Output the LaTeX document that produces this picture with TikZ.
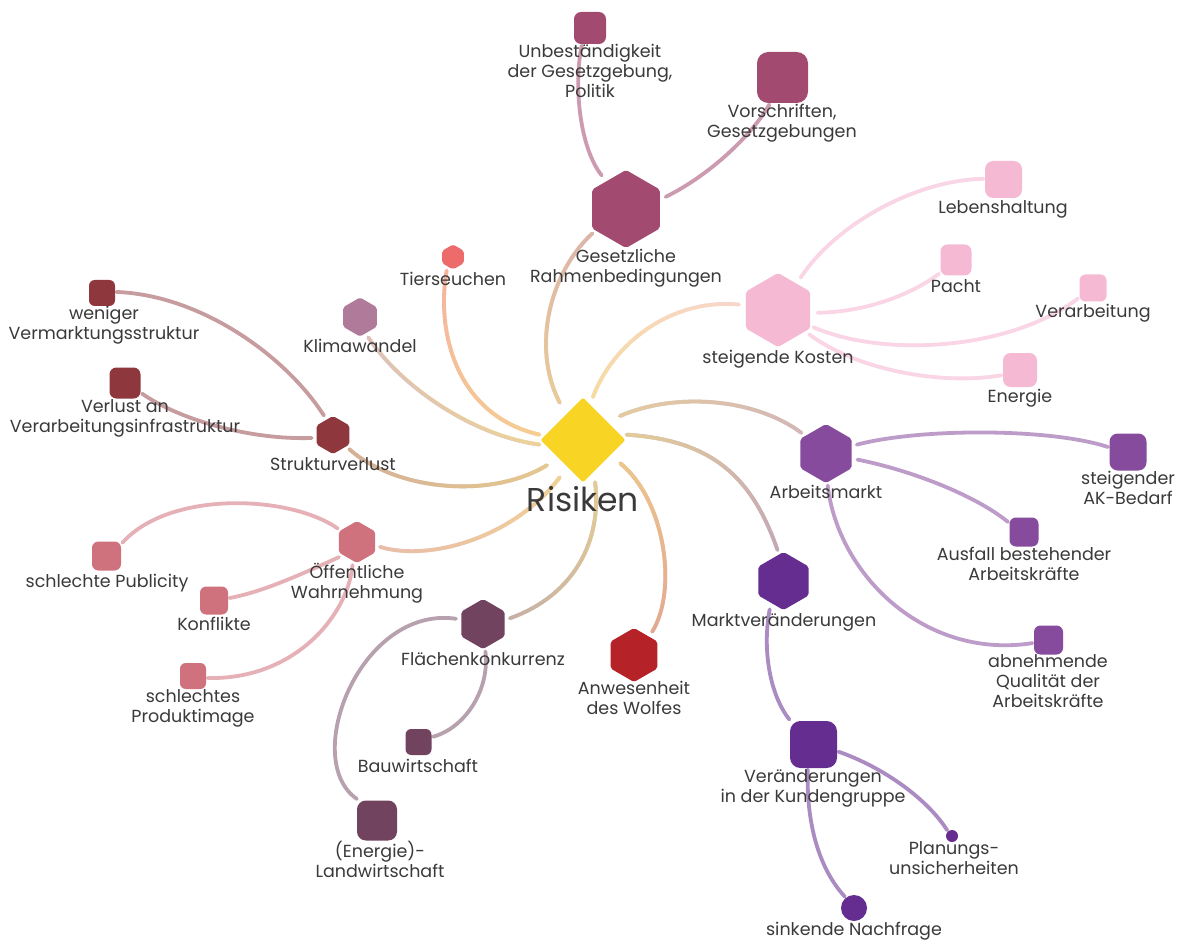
\documentclass[tikz,border=0pt]{standalone}
\usepackage{fontspec}
\setmainfont{Poppins}
\usetikzlibrary{shapes.geometric,fadings}
\pgfdeclarelayer{edges}
\pgfsetlayers{edges,main}
\definecolor{cR}{HTML}{F8D524}
\definecolor{cG}{HTML}{A34A70}
\definecolor{cK}{HTML}{F5B9D4}
\definecolor{cA}{HTML}{874B9E}
\definecolor{cM}{HTML}{652D90}
\definecolor{cW}{HTML}{B52329}
\definecolor{cF}{HTML}{72435F}
\definecolor{cO}{HTML}{D0727D}
\definecolor{cS}{HTML}{8E383E}
\definecolor{cKl}{HTML}{B07A9B}
\definecolor{cT}{HTML}{EE6B6B}
\definecolor{yel}{HTML}{F5DE88}
\definecolor{txt}{HTML}{3A3A3A}
\newcommand\lblfont{\fontsize{17.5}{20}\selectfont}
\newcommand\riskfont{\fontsize{33}{40}\selectfont}
\newcommand\lstrut{\vrule width 0pt height 16pt\relax}
\begin{tikzfadingfrompicture}[name=yfade]
  \fill[transparent!0] (-150bp,-150bp) rectangle (-70bp,150bp);
  \shade[left color=transparent!0, right color=transparent!100] (-70bp,-150bp) rectangle (70bp,150bp);
  \fill[transparent!100] (70bp,-150bp) rectangle (150bp,150bp);
\end{tikzfadingfrompicture}
\tikzset{
  hexa/.style={regular polygon, regular polygon sides=6, shape border rotate=30,
    minimum size=#1, inner sep=0pt, outer sep=0pt, rounded corners=2pt, draw=none},
  hit/.style={circle, minimum size=#1, inner sep=0pt, outer sep=0pt, draw=none},
  sq/.style={rectangle, minimum size=#1, inner sep=0pt, outer sep=1.5pt, rounded corners=#1/4.5},
  circ/.style={circle, minimum size=#1, inner sep=0pt, outer sep=1.5pt},
  lbl/.style={font=\lblfont, text=txt, align=center, inner sep=0pt, anchor=north,
    execute at begin node=\lstrut},
  ce/.style={line width=3.8pt, line cap=round},
  le/.style={line width=3.8pt, line cap=round},
}
\newcommand\hexn[4]{%
  \node[hexa=#3, fill=#4] (#1S) at #2 {};
  \node[hit=#3+5] (#1) at #2 {};}
\newcommand\riskedge[6]{%
  \draw[ce,draw=#5] #1 .. controls #2 and #3 .. #4;
  \draw[ce,draw=yel,path fading=yfade,fading angle=#6] #1 .. controls #2 and #3 .. #4;}
\begin{document}
\begin{tikzpicture}[x=1pt,y=-1pt]
\useasboundingbox (0,0) rectangle (1178,941);
% centre
\node[diamond, minimum width=85, minimum height=85, inner sep=0pt, fill=cR, rounded corners=1.5pt] (rS) at (583,440) {};
\node[hit=88] (r) at (583,440) {};
\node[font=\riskfont, text=txt, inner sep=0pt, anchor=base] (rL) at (583,511) {Risiken};
% level 1
\hexn{g}{(626,209)}{78}{cG}
\hexn{k}{(778,310)}{74}{cK}
\hexn{am}{(826,453.5)}{59}{cA}
\hexn{mv}{(783.5,581)}{58}{cM}
\hexn{w}{(634,655)}{54}{cW}
\hexn{fl}{(483,624)}{50}{cF}
\hexn{oe}{(357,542)}{42}{cO}
\hexn{sv}{(333,435)}{38}{cS}
\hexn{kl}{(360,317)}{39}{cKl}
\hexn{t}{(453,257)}{25}{cT}
% level 2
\node[sq=32, fill=cG] (ub) at (590,28) {};
\node[sq=51, fill=cG] (vs) at (782.5,77.5) {};
\node[sq=37, fill=cK] (leb) at (1003.5,179.5) {};
\node[sq=31, fill=cK] (pa) at (956,260) {};
\node[sq=27, fill=cK] (vb) at (1093,288) {};
\node[sq=34, fill=cK] (en) at (1020,370) {};
\node[sq=37, fill=cA] (ak) at (1128,452) {};
\node[sq=29, fill=cA] (af) at (1024,532) {};
\node[sq=29, fill=cA] (ab) at (1048.5,640) {};
\node[sq=47, fill=cM] (vk) at (813.5,744.5) {};
\node[circ=12, fill=cM] (pl) at (952,836) {};
\node[circ=26, fill=cM] (sn) at (854,908) {};
\node[sq=26, fill=cF] (bau) at (418.5,742) {};
\node[sq=40, fill=cF] (lw) at (377,820.5) {};
\node[sq=29, fill=cO] (pub) at (106.5,556) {};
\node[sq=28, fill=cO] (kon) at (214,600.5) {};
\node[sq=26, fill=cO] (pro) at (193,676) {};
\node[sq=26, fill=cS] (wen) at (102,293) {};
\node[sq=31, fill=cS] (ver) at (125,383) {};
% labels
\node[lbl] (ubL) at (590,44) {Unbeständigkeit\\der Gesetzgebung,\\Politik};
\node[lbl] (vsL) at (782,104) {Vorschriften,\\Gesetzgebungen};
\node[lbl] (gL) at (626,249) {Gesetzliche\\Rahmenbedingungen};
\node[lbl] (tL) at (453,269) {Tierseuchen};
\node[lbl] (lebL) at (1003,197) {Lebenshaltung};
\node[lbl] (paL) at (956,276) {Pacht};
\node[lbl] (vbL) at (1093,301) {Verarbeitung};
\node[lbl] (enL) at (1020,386) {Energie};
\node[lbl] (kL) at (778,347) {steigende Kosten};
\node[lbl] (klL) at (360,336) {Klimawandel};
\node[lbl] (wenL) at (104,306) {weniger\\Vermarktungsstruktur};
\node[lbl] (verL) at (125,399) {Verlust an\\Verarbeitungsinfrastruktur};
\node[lbl] (svL) at (333,454) {Strukturverlust};
\node[lbl] (amL) at (826,482) {Arbeitsmarkt};
\node[lbl] (akL) at (1128,471) {steigender\\AK-Bedarf};
\node[lbl] (afL) at (1024,547) {Ausfall bestehender\\Arbeitskräfte};
\node[lbl] (abL) at (1048,654) {abnehmende\\Qualität der\\Arbeitskräfte};
\node[lbl] (mvL) at (784,610) {Marktveränderungen};
\node[lbl] (vkL) at (813,769) {Veränderungen\\in der Kundengruppe};
\node[lbl] (plL) at (954,841) {Planungs-\\unsicherheiten};
\node[lbl] (snL) at (854,919) {sinkende Nachfrage};
\node[lbl] (oeL) at (357,563) {Öffentliche\\Wahrnehmung};
\node[lbl] (pubL) at (107,571) {schlechte Publicity};
\node[lbl] (konL) at (214,614) {Konflikte};
\node[lbl] (proL) at (193,689) {schlechtes\\Produktimage};
\node[lbl] (flL) at (483,649) {Flächenkonkurrenz};
\node[lbl] (bauL) at (418,756) {Bauwirtschaft};
\node[lbl] (lwL) at (380,841) {(Energie)-\\Landwirtschaft};
\node[lbl] (wL) at (634,681) {Anwesenheit\\des Wolfes};
% edges
\begin{pgfonlayer}{edges}
\fill[white] (0,0) rectangle (1178,941);
\riskedge{(r.122)}{(530,345)}{(552,270)}{(g.216)}{cG!50}{79}
\riskedge{(r.173)}{(455,415)}{(436,330)}{(t.245)}{cT!60}{119}
\riskedge{(r.186)}{(470,435)}{(400,385)}{(kl.292)}{cKl!55}{148}
\riskedge{(r.215)}{(490,500)}{(395,490)}{(sv.319)}{cS!50}{175}
\riskedge{(r.238)}{(515,537)}{(430,562)}{(oe.348)}{cO!55}{201}
\riskedge{(r.286)}{(602,540)}{(575,595)}{(fl.12)}{cF!50}{238}
\riskedge{(r.328)}{(665,500)}{(678,590)}{(w.52)}{cW!50}{281}
\riskedge{(r.7)}{(705,440)}{(750,470)}{(mv.101)}{cM!50}{323}
\riskedge{(r.33)}{(675,392)}{(755,398)}{(am.140)}{cA!50}{355}
\riskedge{(r.77)}{(612,345)}{(670,298)}{(k.172)}{cK!60}{33}
\draw[le, draw=cG!55] (g.126) .. controls (578,145) and (574,80) .. (ub.245);
\draw[le, draw=cG!55] (g.17) .. controls (710,175) and (752,135) .. (vs.244);
\draw[le, draw=cK!60] (k.55) .. controls (835,225) and (915,180) .. (leb.178);
\draw[le, draw=cK!60] (k.356) .. controls (870,312) and (915,292) .. (pa.219);
\draw[le, draw=cK!60] (k.334) .. controls (885,358) and (1010,350) .. (vb.215);
\draw[le, draw=cK!60] (k.322) .. controls (860,372) and (945,385) .. (en.196);
\draw[le, draw=cA!55] (am.16) .. controls (920,428) and (1050,428) .. (ak.166);
\draw[le, draw=cA!55] (am.349) .. controls (910,470) and (975,495) .. (af.148);
\draw[le, draw=cA!55] (am.273) .. controls (838,575) and (925,660) .. (ab.191);
\draw[le, draw=cM!55] (mv.244) .. controls (762,650) and (770,695) .. (vk.134);
\draw[le, draw=cM!55] (vk.344) .. controls (885,768) and (928,800) .. (pl.130);
\draw[le, draw=cM!55] (vk.257) .. controls (806,830) and (822,872) .. (sn.129);
\draw[le, draw=cO!55] (oe.145) .. controls (290,495) and (170,490) .. (pub.40);
\draw[le, draw=cO!55] (oe.220) .. controls (300,575) and (262,592) .. (kon.9);
\draw[le, draw=cO!55] (oe.259) .. controls (348,615) and (295,680) .. (pro.352);
\draw[le, draw=cF!50] (fl.169) .. controls (360,605) and (300,760) .. (lw.133);
\draw[le, draw=cF!50] (fl.275) .. controls (490,690) and (465,728) .. (bau.20);
\draw[le, draw=cS!50] (sv.115) .. controls (285,355) and (200,295) .. (wen.4);
\draw[le, draw=cS!50] (sv.188) .. controls (250,440) and (180,420) .. (ver.328);
\end{pgfonlayer}
\end{tikzpicture}
\end{document}
